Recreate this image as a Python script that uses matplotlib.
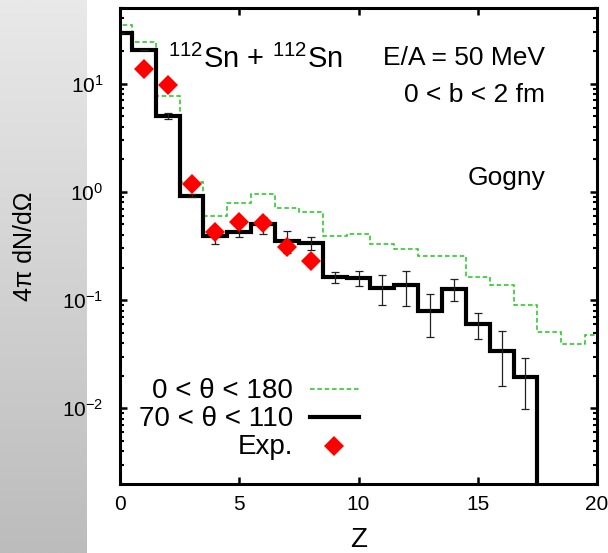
import numpy as np
import matplotlib
matplotlib.use("Agg")
from matplotlib import pyplot as plt
from matplotlib.ticker import NullLocator, LogLocator

plt.rcParams["font.family"] = ["Liberation Sans", "DejaVu Sans"]
plt.rcParams["mathtext.fontset"] = "custom"
plt.rcParams["mathtext.rm"] = "Liberation Sans"
plt.rcParams["mathtext.it"] = "Liberation Sans:italic"
plt.rcParams["mathtext.bf"] = "Liberation Sans:bold"

# 0 < theta < 180 (green dashed), Z = 0..20
z_all = np.arange(0, 21)
all_theta = [34.9, 24.5, 7.74, 1.24, 0.60, 0.796, 0.95, 0.716, 0.657, 0.39, 0.41,
             0.328, 0.298, 0.254, 0.254, 0.164, 0.138, 0.0905, 0.0509, 0.0389, 0.048]

# 70 < theta < 110 (black), Z = 0..17
z_mid = np.arange(0, 18)
mid_theta = [29.2, 20.6, 5.05, 0.92, 0.39, 0.43, 0.502, 0.352, 0.339, 0.163, 0.161,
             0.130, 0.137, 0.080, 0.128, 0.0596, 0.0342, 0.0194]
mid_err = [0, 0, 0.35, 0.03, 0.06, 0.05, 0.09, 0.08, 0.047, 0.02, 0.025,
           0.04, 0.048, 0.034, 0.03, 0.016, 0.018, 0.0096]

# experiment
z_exp = [1, 2, 3, 4, 5, 6, 7, 8]
exp_vals = [13.7, 9.73, 1.18, 0.43, 0.531, 0.52, 0.31, 0.23]

green = "#1ec81e"

fig = plt.figure(figsize=(6.08, 5.53), dpi=100)

# grey strip on the left
bg = fig.add_axes([0, 0, 87 / 608, 1], zorder=0)
grad = np.linspace(0, 1, 256).reshape(-1, 1)
bg.imshow(grad, aspect="auto", cmap=matplotlib.colors.LinearSegmentedColormap.from_list(
    "g", ["#e9e9e9", "#bcbcbc"]), extent=[0, 1, 0, 1], origin="upper")
bg.axis("off")

ax = fig.add_axes([120 / 608, 1 - 484 / 553, 477 / 608, 476 / 553], zorder=1)
ax.set_yscale("log")

ax.stairs(all_theta, np.arange(-0.5, 21.0), baseline=None, color=green,
          lw=1.1, linestyle=(0, (3, 1.8)))
ax.stairs(mid_theta, np.arange(-0.5, 18.0), baseline=1e-6, color="black", lw=3)
ax.errorbar(z_mid, mid_theta, yerr=mid_err, fmt="none", ecolor="#222222",
            elinewidth=0.9, capsize=3, capthick=0.9)
ax.plot(z_exp, exp_vals, "D", color="red", ms=10, mew=0, zorder=5)

ax.set_xlim(0, 20)
ax.set_ylim(0.002, 50)
ax.set_xticks([0, 5, 10, 15, 20])
ax.xaxis.set_minor_locator(NullLocator())
ax.yaxis.set_major_locator(LogLocator(base=10, numticks=10))
ax.yaxis.set_minor_locator(LogLocator(base=10, subs=np.arange(2, 10), numticks=10))
for s in ax.spines.values():
    s.set_linewidth(2.2)
ax.tick_params(which="both", direction="in", top=True, right=True, labelsize=15)
ax.tick_params(which="major", length=5, width=1.8)
ax.tick_params(which="minor", length=3, width=1.5)
ax.tick_params(axis="x", pad=8)
ax.tick_params(axis="y", pad=12)

# annotations
ax.text(0.1006, 0.873, r"$\mathregular{^{112}}$Sn + $\mathregular{^{112}}$Sn",
        fontsize=21, va="baseline", transform=ax.transAxes)
ax.text(0.891, 0.880, "E/A = 50 MeV", fontsize=19, ha="right", va="baseline",
        transform=ax.transAxes)
ax.text(0.891, 0.803, "0 < b < 2 fm", fontsize=19, ha="right", va="baseline",
        transform=ax.transAxes)
ax.text(0.891, 0.628, "Gogny", fontsize=19, ha="right", va="baseline",
        transform=ax.transAxes)

# gnuplot style key
ax.text(0.363, 0.181, "0 < θ < 180", fontsize=20, ha="right", va="baseline",
        transform=ax.transAxes)
ax.text(0.363, 0.122, "70 < θ < 110", fontsize=20, ha="right", va="baseline",
        transform=ax.transAxes)
ax.text(0.363, 0.0624, "Exp.", fontsize=20, ha="right", va="baseline",
        transform=ax.transAxes)
ax.plot([0.398, 0.501], [0.199, 0.199], color=green, lw=1.1,
        linestyle=(0, (3, 1.8)), transform=ax.transAxes)
ax.plot([0.398, 0.501], [0.140, 0.140], color="black", lw=3,
        transform=ax.transAxes)
ax.plot([0.449], [0.0798], "D", color="red", ms=10, mew=0,
        transform=ax.transAxes)

fig.text(25 / 608, 1 - 246 / 553, "4π dN/dΩ", rotation=90, fontsize=18,
         ha="center", va="center")
fig.text(358.5 / 608, 1 - 540 / 553, "Z", fontsize=20, ha="center", va="center")

fig.savefig("out.png", dpi=100)
